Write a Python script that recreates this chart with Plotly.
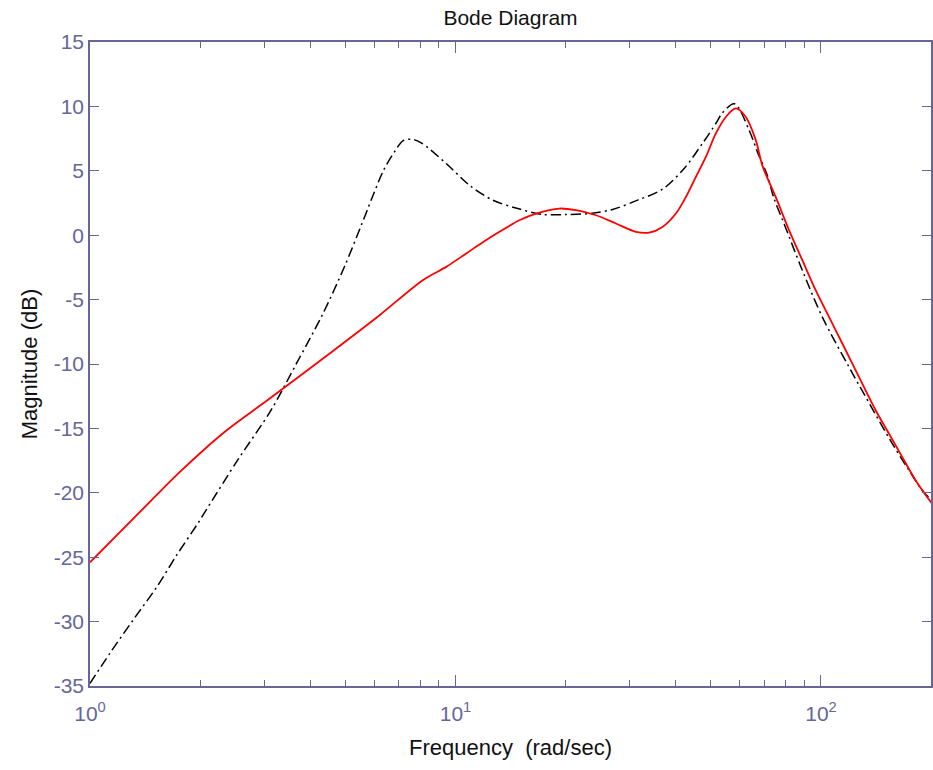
import plotly.graph_objects as go
import math

# Red (solid) magnitude curve: frequency (rad/sec) and magnitude (dB)
red_freq = [1.0, 1.474, 1.762, 2.338, 3.103, 4.526, 6.199, 8.14, 9.43, 10.70,
            11.88, 13.19, 14.96, 16.61, 19.24, 21.37, 24.24, 27.48, 31.17, 33.89,
            36.85, 40.09, 42.69, 45.47, 48.42, 51.57, 54.91, 58.48, 62.28, 66.32,
            69.14, 75.19, 81.77, 88.92, 96.71, 105.2, 114.4, 127.0, 141.1, 153.4,
            166.8, 181.4, 201.1]
red_mag = [-25.4, -20.57, -18.38, -15.26, -12.68, -9.18, -6.21, -3.49, -2.46, -1.42,
           -0.55, 0.26, 1.16, 1.68, 2.07, 1.94, 1.55, 0.91, 0.26, 0.20,
           0.64, 1.68, 2.97, 4.53, 6.08, 7.90, 9.18, 9.84, 9.18, 7.38,
           5.40, 2.97, 0.39, -1.94, -4.27, -6.34, -8.41, -11.0, -13.59, -15.40,
           -17.21, -19.02, -20.83]

# Black (dash-dot) magnitude curve
blk_freq = [1.0, 1.134, 1.31, 1.524, 1.73, 1.97, 2.105, 2.542, 3.117, 3.672,
            4.340, 4.974, 5.64, 5.95, 6.36, 6.81, 7.18, 7.6, 8.06, 9.43,
            10.92, 12.65, 14.80, 17.32, 20.07, 23.23, 26.91, 31.49, 36.85, 42.24,
            47.39, 51.57, 53.75, 58.0, 63.59, 66.99, 71.3, 74.4, 79.2, 88.9,
            100.8, 119.3, 132.5, 156.6, 174.0, 189.1, 201.1]
blk_mag = [-34.8, -32.45, -29.9, -27.3, -24.8, -22.4, -21.09, -17.41, -13.66, -9.96,
           -6.08, -2.41, 1.42, 3.1, 5.05, 6.47, 7.32, 7.45, 7.17, 5.57,
           3.88, 2.72, 2.07, 1.61, 1.61, 1.68, 2.0, 2.72, 3.57, 5.18,
           7.12, 8.67, 9.50, 10.2, 8.15, 6.47, 4.66, 2.85, 0.91, -2.72,
           -6.34, -10.23, -12.55, -16.17, -18.24, -19.80, -20.57]

x_major = [1, 10, 100]
x_major_text = ["10<sup>0</sup>", "10<sup>1</sup>", "10<sup>2</sup>"]
x_minor = [2, 3, 4, 5, 6, 7, 8, 9, 20, 30, 40, 50, 60, 70, 80, 90, 200]
y_ticks = [-35, -30, -25, -20, -15, -10, -5, 0, 5, 10, 15]
y_tick_text = ["-35", "-30", "-25", "-20", "-15", "-10", "-5", "0", "5", "10", "15"]

axis_color = "#666699"
font_family = "Liberation Sans, Arial, sans-serif"

fig = go.Figure()
fig.add_trace(go.Scatter(x=blk_freq, y=blk_mag, mode="lines",
                         line=dict(color="black", width=1.5, dash="10px,4px,2px,4px",
                                   shape="spline", smoothing=0.9),
                         showlegend=False))
fig.add_trace(go.Scatter(x=red_freq, y=red_mag, mode="lines",
                         line=dict(color="#ff0000", width=1.8, shape="spline", smoothing=0.9),
                         showlegend=False))

fig.update_layout(
    width=933, height=770,
    margin=dict(l=90, r=0, t=42, b=84),
    paper_bgcolor="white", plot_bgcolor="white",
    font=dict(family=font_family, size=20, color=axis_color),
    title=dict(text="Bode Diagram", x=0.5, xref="paper", xanchor="center",
               y=1 - 18 / 770, yanchor="middle",
               font=dict(family=font_family, size=21, color="#111111")),
    xaxis=dict(type="log", range=[0, math.log10(200)],
               showline=True, linecolor=axis_color, linewidth=1.5, mirror="ticks",
               ticks="inside", ticklen=11, tickcolor=axis_color, tickwidth=1.2,
               tickvals=x_major, ticktext=x_major_text, ticklabelstandoff=8,
               minor=dict(tickvals=x_minor, ticks="inside", ticklen=6,
                          tickcolor=axis_color, tickwidth=1.2, showgrid=False),
               showgrid=False, zeroline=False,
               tickfont=dict(size=21, color=axis_color),
               title=dict(text="Frequency  (rad/sec)", standoff=16,
                          font=dict(size=22, color="#111111"))),
    yaxis=dict(range=[-35, 15], tickvals=y_ticks, ticktext=y_tick_text,
               showline=True, linecolor=axis_color, linewidth=1.5, mirror="ticks",
               ticks="inside", ticklen=9, tickcolor=axis_color, tickwidth=1.2,
               showgrid=False, zeroline=False,
               tickfont=dict(size=21, color=axis_color),
               title=dict(text="Magnitude (dB)", standoff=10,
                          font=dict(size=22, color="#111111"))),
)

fig.write_html("out.html", config={"displayModeBar": False},
               post_script="document.body.style.margin='0';")
